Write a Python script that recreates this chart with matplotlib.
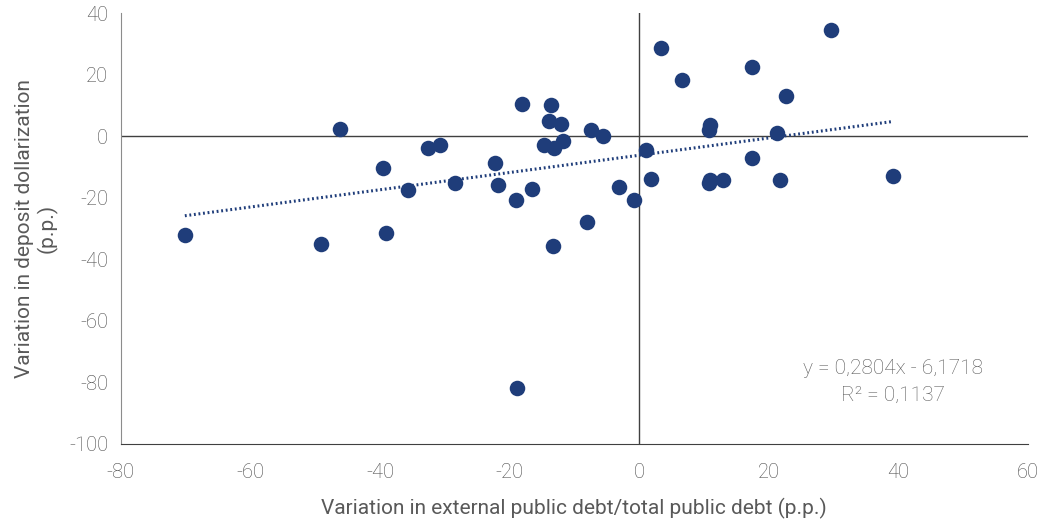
import matplotlib.pyplot as plt
import numpy as np

plt.rcParams.update({
    "font.family": ["Roboto", "DejaVu Sans"],
    "font.weight": "light",
    "axes.unicode_minus": False,
})

# change in external public debt share (p.p.)
x_vals = [
    -70.1, -49.1, -46.2, -39.6, -39.0, -35.6, -32.6, -30.7, -28.4, -22.3,
    -21.8, -19.0, -18.9, -18.1, -16.6, -14.7, -13.9, -13.6, -13.3, -13.2,
    -12.1, -11.7, -8.0, -7.5, -5.6, -3.1, -0.8, 1.1, 1.9, 3.3,
    6.6, 10.8, 11.0, 10.7, 11.0, 13.0, 17.4, 17.4, 21.2, 21.8,
    22.6, 29.6, 39.1,
]
# change in deposit dollarization (p.p.)
y_vals = [
    -32.1, -35.0, 2.5, -10.3, -31.3, -17.6, -3.8, -3.0, -15.3, -8.8,
    -15.7, -20.7, -81.7, 10.6, -17.2, -2.7, 4.9, 10.1, -35.7, -3.9,
    4.1, -1.5, -28.0, 2.0, 0.2, -16.5, -20.7, -4.6, -14.0, 28.8,
    18.3, 1.9, 3.7, -15.3, -14.2, -14.3, 22.6, -7.1, 1.1, -14.3,
    13.2, 34.6, -12.8,
]
# trend line as reported on the chart
slope, intercept, r2 = 0.2804, -6.1718, 0.1137

navy = "#1f3d7a"
grey = "#595959"

fig = plt.figure(figsize=(10.44, 5.25), dpi=100)
ax = fig.add_axes([0.1156, 0.1543, 0.8691, 0.8206])

ax.scatter(x_vals, y_vals, s=125, color=navy, zorder=3, linewidths=0)

xs = np.array([min(x_vals), max(x_vals)])
ax.plot(xs, slope * xs + intercept, color=navy, lw=2.2, ls=(0, (0.6, 0.9)), zorder=2)

ax.axhline(0, color="#404040", lw=1, zorder=1)
ax.axvline(0, color="#404040", lw=1, zorder=1)

ax.set_xlim(-80, 60)
ax.set_ylim(-100, 40)
ax.set_xticks(range(-80, 61, 20))
ax.set_yticks(range(-100, 41, 20))
ax.tick_params(length=0, labelsize=14.5, labelcolor="#4a4a4a")
ax.tick_params(axis="x", pad=14)
ax.tick_params(axis="y", pad=9)

for side in ["top", "right"]:
    ax.spines[side].set_visible(False)
ax.spines["left"].set_color("#8c8c8c")
ax.spines["bottom"].set_color("#404040")

ax.set_xlabel("Variation in external public debt/total public debt (p.p.)",
              fontsize=15, color=grey, labelpad=11)
ax.set_ylabel("Variation in deposit dollarization\n(p.p.)",
              fontsize=15, color=grey, labelpad=8)

eq = f"y = {slope:.4f}x - {abs(intercept):.4f}".replace(".", ",")
ax.text(0.851, 0.144, eq + "\n" + f"R² = {r2:.4f}".replace(".", ","),
        transform=ax.transAxes, ha="center", va="center",
        fontsize=15, color=grey, linespacing=1.5)

fig.savefig("out.png", dpi=100)
